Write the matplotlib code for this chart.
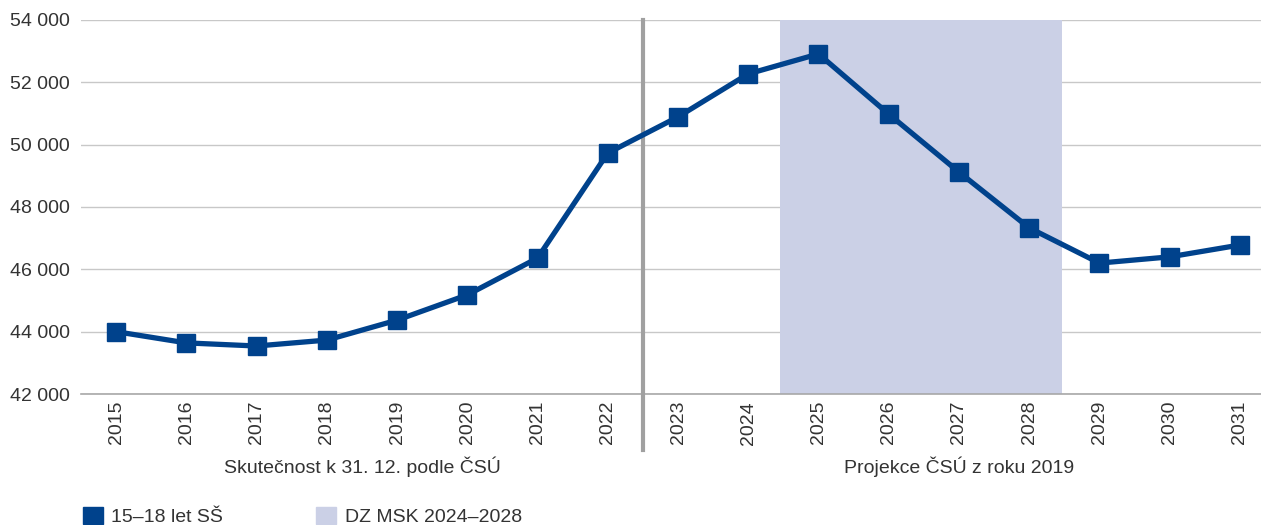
import matplotlib.pyplot as plt
import matplotlib.transforms as mtransforms
from matplotlib.patches import Patch
from matplotlib.lines import Line2D

plt.rcParams['font.family'] = ['Liberation Sans', 'DejaVu Sans']

years = [str(y) for y in range(2015, 2032)]
students = [44000, 43640, 43540, 43730, 44370, 45180, 46360, 49730, 50890,
            52270, 52910, 50980, 49120, 47330, 46200, 46400, 46780]
y_ticks = [42000, 44000, 46000, 48000, 50000, 52000, 54000]
span_start, span_end = 9.45, 13.47   # shaded DZ MSK 2024-2028 band (category units)
split_pos = 7.5                      # between 2022 and 2023
group_labels = ['Skutečnost k 31. 12. podle ČSÚ', 'Projekce ČSÚ z roku 2019']
group_centers = [3.5, 12.0]

line_col = '#00428c'
shade_col = '#cbd0e6'
text_col = '#333333'
fs = 14

fig = plt.figure(figsize=(12.61, 5.25), dpi=100)
ax = fig.add_axes([0.0642, 0.2495, 0.9358, 0.7125])

x = list(range(len(years)))
ax.axvspan(span_start, span_end, color=shade_col, lw=0, zorder=1)
ax.plot(x, students, color=line_col, lw=3.8, marker='s', ms=12.5, zorder=4)

ax.set_ylim(42000, 54000)
ax.set_xlim(-0.5, 16.3)
ax.set_yticks(y_ticks)
ax.set_yticklabels([f'{v:,}'.replace(',', ' ') for v in y_ticks], fontsize=fs, color=text_col)
ax.set_xticks(x)
ax.set_xticklabels(years, rotation=90, fontsize=fs, color=text_col)
ax.tick_params(axis='x', length=0, pad=5)
ax.tick_params(axis='y', length=0, pad=8)

ax.grid(axis='y', color='#c8c8c8', lw=1, zorder=0)
ax.set_axisbelow(True)
for s in ['top', 'right', 'left']:
    ax.spines[s].set_visible(False)
ax.spines['bottom'].set_color('#a8a8a8')
ax.spines['bottom'].set_linewidth(1.2)

# separator between actual and projection
trans = mtransforms.blended_transform_factory(ax.transData, ax.transAxes)
ax.add_line(Line2D([split_pos, split_pos], [-0.15, 1.0], transform=trans,
                   color='#a0a0a0', lw=3, clip_on=False, zorder=3))

for lab, cx in zip(group_labels, group_centers):
    ax.text(cx, -0.195, lab, transform=trans, ha='center', va='center',
            fontsize=fs, color=text_col)

handles = [Patch(color=line_col), Patch(color=shade_col)]
fig.legend(handles, ['15–18 let SŠ', 'DZ MSK 2024–2028'], loc='lower left',
           bbox_to_anchor=(0.052, -0.036), ncol=2, frameon=False, fontsize=fs,
           handlelength=1.0, handleheight=1.0, handletextpad=0.45,
           columnspacing=4.8, labelcolor=text_col)

fig.savefig('out.png', dpi=100)
